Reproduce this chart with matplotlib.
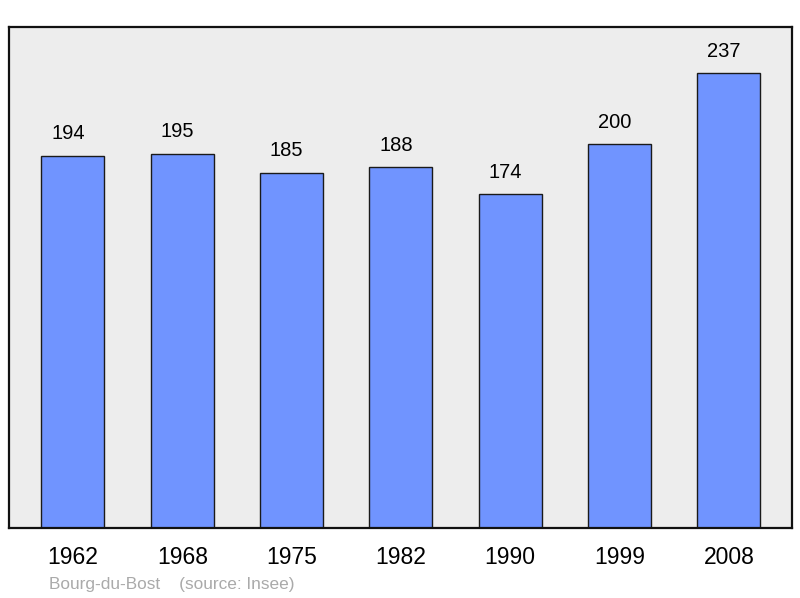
import matplotlib
matplotlib.use("Agg")
import matplotlib.pyplot as plt
import numpy as np

plt.rcParams["font.family"] = ["Liberation Sans", "DejaVu Sans"]

years = ["1962", "1968", "1975", "1982", "1990", "1999", "2008"]
population = [194, 195, 185, 188, 174, 200, 237]
commune = "Bourg-du-Bost"
source = "(source: Insee)"

fig = plt.figure(figsize=(8, 5.98), dpi=100)
ax = fig.add_axes([0.01125, 0.1171, 0.97875, 0.8378])
ax.set_facecolor("#ededed")

x = np.arange(len(years))
ax.bar(x, population, width=0.576, color="#7094ff", edgecolor="#1a1a1a",
       linewidth=1.0, zorder=2)

# value labels above each bar
for xi, v in zip(x, population):
    ax.annotate(str(v), (xi, v), xytext=(-3.5, 16), textcoords="offset points",
                ha="center", va="center", fontsize=14.5)

ax.set_xlim(-0.585, 6.578)
ax.set_ylim(0, 261.2)
ax.set_yticks([])
ax.set_xticks(x)
ax.set_xticklabels(years, fontsize=16.5)
ax.tick_params(axis="x", length=0, pad=13)
for s in ax.spines.values():
    s.set_linewidth(1.6)
    s.set_color("#111111")

fig.text(49 / 800, 1 - 584 / 598, commune + "    " + source, color="#aaaaaa",
         fontsize=12.4, ha="left", va="center")

fig.savefig("out.png", dpi=100)
